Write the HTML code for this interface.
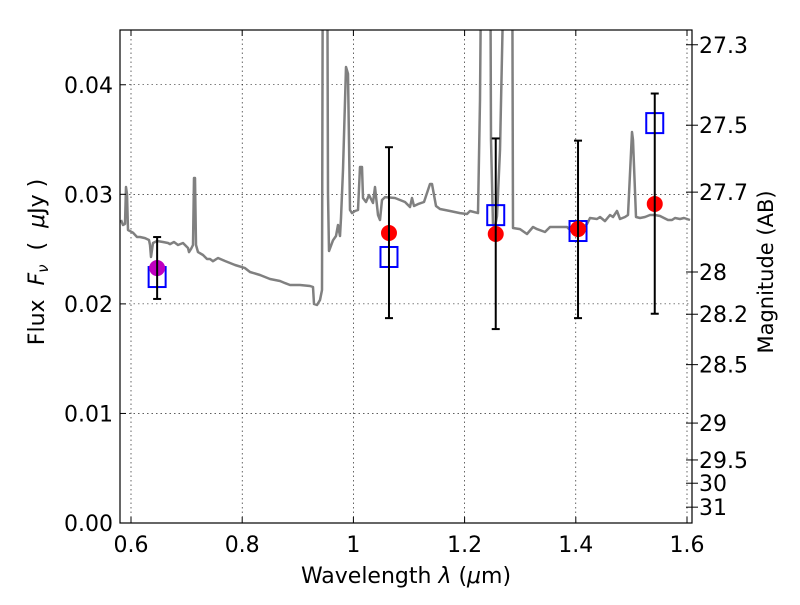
<!DOCTYPE html>
<html><head><meta charset="utf-8"><style>
body{margin:0;background:#fff}
svg text{font-family:"DejaVu Sans","Liberation Sans",sans-serif;fill:#000}
</style></head><body>
<svg id="chart" width="800" height="600" xmlns="http://www.w3.org/2000/svg">
<defs><clipPath id="clip"><rect x="120" y="30" width="572" height="493"/></clipPath></defs>
<g id="grid"></g>
<g id="spec" clip-path="url(#clip)"></g>
<g id="marks"></g>
<rect x="120" y="30" width="572" height="493" fill="none" stroke="#000" stroke-width="1.2"/>
<g id="axes"></g>
<text x="406" y="583" font-size="22" text-anchor="middle">Wavelength  <tspan font-style="italic">λ</tspan> (<tspan font-style="italic">μ</tspan>m)</text>
<text transform="translate(44,262) rotate(-90)" font-size="22" text-anchor="middle" xml:space="preserve">Flux  <tspan font-style="italic">F<tspan font-size="15" dy="4">ν</tspan></tspan><tspan dy="-4">  (  </tspan><tspan font-style="italic">μ</tspan>Jy )</text>
<text transform="translate(773,272) rotate(-90)" font-size="21" text-anchor="middle">Magnitude (AB)</text>
</svg>
<script>
const specLam=[0.582,0.5856,0.5892,0.591,0.5928,0.5946,0.6036,0.6108,0.6162,0.6252,0.6324,0.6342,0.636,0.6396,0.6468,0.6576,0.6665,0.6701,0.6773,0.6845,0.6935,0.7025,0.7043,0.7079,0.7115,0.7133,0.7151,0.7169,0.7205,0.7295,0.7367,0.7421,0.7475,0.7565,0.7691,0.7871,0.805,0.814,0.832,0.85,0.868,0.877,0.886,0.904,0.922,0.9273,0.9291,0.9345,0.9399,0.9435,0.9453,0.9471,0.9525,0.9543,0.9561,0.9633,0.9687,0.9723,0.9759,0.9777,0.9813,0.9867,0.9903,0.9939,0.9975,1.0029,1.0083,1.0119,1.0155,1.0173,1.0227,1.0281,1.0353,1.0389,1.0442,1.0478,1.0514,1.0568,1.0748,1.0838,1.0928,1.1018,1.1054,1.109,1.1162,1.127,1.1378,1.1414,1.1486,1.1558,1.1737,1.1917,1.2043,1.2097,1.2241,1.2277,1.2313,1.2457,1.2475,1.2511,1.2547,1.2583,1.2637,1.2745,1.2853,1.2871,1.2996,1.3122,1.323,1.3302,1.3446,1.3536,1.3716,1.3842,1.3896,1.4076,1.4201,1.4255,1.4381,1.4435,1.4525,1.4615,1.4669,1.4741,1.4795,1.4885,1.4939,1.5011,1.5029,1.5083,1.5155,1.5245,1.5335,1.5425,1.5514,1.5658,1.573,1.5784,1.5874,1.5946,1.6054];
const specFlux=[0.02766,0.0272,0.0273,0.03067,0.0300,0.02674,0.0265,0.0261,0.0261,0.02600,0.02583,0.02537,0.02428,0.02556,0.02574,0.02565,0.02556,0.02546,0.02565,0.02537,0.02556,0.0251,0.02473,0.02501,0.02537,0.03149,0.03149,0.02537,0.02473,0.02446,0.0241,0.0241,0.0239,0.02419,0.02391,0.02355,0.02327,0.02291,0.02264,0.02227,0.02209,0.0219,0.02172,0.02172,0.02163,0.02154,0.01999,0.0199,0.02035,0.02127,0.06,0.06,0.06,0.03,0.02483,0.0258,0.0262,0.0272,0.0262,0.02784,0.03222,0.04162,0.0410,0.02857,0.02829,0.02848,0.02857,0.03249,0.03249,0.02966,0.0293,0.02994,0.02921,0.03067,0.02811,0.02766,0.02948,0.02975,0.02966,0.02948,0.0293,0.02884,0.02966,0.02893,0.02911,0.0293,0.03094,0.03094,0.02893,0.02866,0.02848,0.02829,0.0282,0.02848,0.02829,0.03861,0.06,0.06,0.03496,0.0272,0.02702,0.02802,0.03404,0.06,0.06,0.02693,0.02683,0.02638,0.02702,0.02683,0.02656,0.02702,0.02702,0.02702,0.02674,0.02683,0.02729,0.02784,0.02775,0.02793,0.02756,0.02811,0.02793,0.02848,0.02775,0.02793,0.02811,0.03569,0.03496,0.02793,0.02784,0.02793,0.02811,0.02811,0.02802,0.02766,0.02766,0.02784,0.02775,0.02784,0.02766];
const bandLam=[0.647,1.064,1.256,1.404,1.542];
const obsFlux=[0.02327,0.02647,0.02638,0.02683,0.02912];
const errHi=[0.0261,0.0343,0.0351,0.0349,0.0392];
const errLo=[0.02045,0.0187,0.0177,0.0187,0.0191];
const modelFlux=[0.02245,0.02428,0.0281,0.02665,0.0365];
const obsColor=['#bf00bf','#ff0000','#ff0000','#ff0000','#ff0000'];
const xTicks=[0.6,0.8,1.0,1.2,1.4,1.6];
const xTickLabels=['0.6','0.8','1','1.2','1.4','1.6'];
const yTicks=[0,0.01,0.02,0.03,0.04];
const yTickLabels=['0.00','0.01','0.02','0.03','0.04'];
const magTicks=[27.3,27.5,27.7,28,28.2,28.5,29,29.5,30,31];
const magTickLabels=['27.3','27.5','27.7','28','28.2','28.5','29','29.5','30','31'];
const X=l=>131+(l-0.6)*556;
const Y=f=>523-f*10956;
const magToFlux=m=>Math.pow(10,(23.9-m)/2.5);
const NS='http://www.w3.org/2000/svg';
function mk(tag,attrs,parent){const e=document.createElementNS(NS,tag);for(const k in attrs)e.setAttribute(k,attrs[k]);parent.appendChild(e);return e;}
const grid=document.getElementById('grid'),axes=document.getElementById('axes'),spec=document.getElementById('spec'),marks=document.getElementById('marks');
xTicks.forEach((t,i)=>{const x=X(t);
 const g=mk('line',{x1:x,x2:x,y1:30,y2:523,stroke:'#000','stroke-width':0.6,'stroke-dasharray':'1.5,3'},grid);
 
 mk('line',{x1:x,x2:x,y1:523,y2:517,stroke:'#000'},axes);mk('line',{x1:x,x2:x,y1:30,y2:36,stroke:'#000'},axes);
 const tx=mk('text',{x:x,y:552,'font-size':22,'text-anchor':'middle'},axes);tx.textContent=xTickLabels[i];
 });
yTicks.forEach((t,i)=>{const y=Y(t);
 const g=mk('line',{x1:120,x2:692,y1:y,y2:y,stroke:'#000','stroke-width':0.6,'stroke-dasharray':'1.5,3'},grid);
 
 mk('line',{x1:120,x2:126,y1:y,y2:y,stroke:'#000'},axes);
 const tx=mk('text',{x:113,y:y+8,'font-size':22,'text-anchor':'end'},axes);tx.textContent=yTickLabels[i];
 });
magTicks.forEach((m,i)=>{const y=Y(magToFlux(m));
 mk('line',{x1:686,x2:698,y1:y,y2:y,stroke:'#000'},axes);
 const tx=mk('text',{x:699,y:y+8,'font-size':22},axes);tx.textContent=magTickLabels[i];
 });
const pts=specLam.map((l,i)=>X(l).toFixed(1)+','+Y(specFlux[i]).toFixed(1)).join(' ');
const pl=mk('polyline',{points:pts,fill:'none',stroke:'#808080','stroke-width':2.5,'stroke-linejoin':'round'},spec);

bandLam.forEach((l,i)=>{const x=X(l);
 const sq=mk('rect',{x:x-8.5,y:Y(modelFlux[i])-10,width:17,height:20,fill:'none',stroke:'#0000ff','stroke-width':2},marks);
 
 const c=mk('circle',{cx:x,cy:Y(obsFlux[i]),r:8,fill:obsColor[i]},marks);
 
 const eb=mk('g',{stroke:'#000','stroke-width':2},marks);
 
 mk('line',{x1:x,x2:x,y1:Y(errHi[i]),y2:Y(errLo[i])},eb);
 mk('line',{x1:x-4,x2:x+4,y1:Y(errHi[i]),y2:Y(errHi[i])},eb);
 mk('line',{x1:x-4,x2:x+4,y1:Y(errLo[i]),y2:Y(errLo[i])},eb);});
</script>
</body></html>
